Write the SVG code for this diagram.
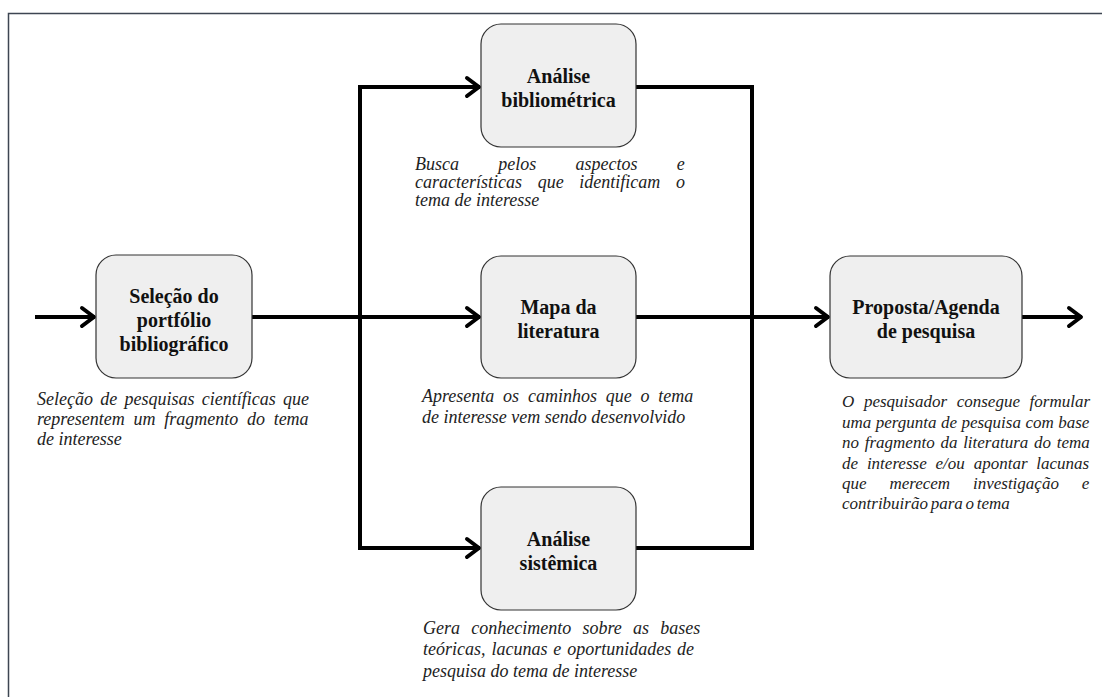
<svg xmlns="http://www.w3.org/2000/svg" width="1102" height="697" viewBox="0 0 1102 697">
<defs>
<style>
.frame{fill:none;stroke:#3d4652;stroke-width:1.5}
.box{fill:#efefef;stroke:#333;stroke-width:1.2}
.lbl{font-family:"Liberation Serif","Times New Roman",serif;font-weight:bold;font-size:20px;fill:#111;text-anchor:middle}
.desc{font-family:"Liberation Serif","Times New Roman",serif;font-style:italic;font-size:18px;fill:#222}
.desc.r{font-size:17px}
.conn{fill:none;stroke:#000;stroke-width:4;stroke-linejoin:miter}
</style>
<marker id="arr" markerUnits="userSpaceOnUse" viewBox="-18 -12 20 24" markerWidth="20" markerHeight="24" refX="0" refY="0" orient="auto">
<path d="M-13,-9 L-1,0 L-13,9" fill="none" stroke="#000" stroke-width="4" stroke-linecap="round" stroke-linejoin="round"/>
</marker>
</defs>
<rect width="1102" height="697" fill="#fff"/>
<path class="frame" d="M8.5,697 V13.5 H1102"/>

<g id="connectors">
<path class="conn" d="M35,317 H95" marker-end="url(#arr)"/>
<path class="conn" d="M252,317 H480" marker-end="url(#arr)"/>
<path class="conn" d="M360,548 V87 H480" marker-end="url(#arr)"/>
<path class="conn" d="M358,548 H480" marker-end="url(#arr)"/>
<path class="conn" d="M636,87 H752 V548 H636"/>
<path class="conn" d="M636,317 H829" marker-end="url(#arr)"/>
<path class="conn" d="M1022,317 H1082" marker-end="url(#arr)"/>
</g>

<g id="node-selecao">
<rect class="box" x="96" y="255" width="156" height="123" rx="20"/>
<text class="lbl" x="174" y="303">Seleção do</text>
<text class="lbl" x="174" y="327">portfólio</text>
<text class="lbl" x="174" y="351">bibliográfico</text>
<text class="desc" x="37" y="405" style="word-spacing:2.75px">Seleção de pesquisas científicas que</text>
<text class="desc" x="37" y="425" style="word-spacing:4.25px">representem um fragmento do tema</text>
<text class="desc" x="37" y="445">de interesse</text>
</g>

<g id="node-bibliometrica">
<rect class="box" x="481" y="24" width="155" height="123" rx="20"/>
<text class="lbl" x="558.5" y="83">Análise</text>
<text class="lbl" x="558.5" y="107">bibliométrica</text>
<text class="desc" x="415" y="170" style="word-spacing:34.8px">Busca pelos aspectos e</text>
<text class="desc" x="415" y="188" style="word-spacing:11.2px">características que identificam o</text>
<text class="desc" x="415" y="206">tema de interesse</text>
</g>

<g id="node-mapa">
<rect class="box" x="481" y="256" width="155" height="122" rx="20"/>
<text class="lbl" x="558.5" y="314">Mapa da</text>
<text class="lbl" x="558.5" y="338">literatura</text>
<text class="desc" x="422" y="402" style="word-spacing:4.3px">Apresenta os caminhos que o tema</text>
<text class="desc" x="422" y="423">de interesse vem sendo desenvolvido</text>
</g>

<g id="node-sistemica">
<rect class="box" x="481" y="487" width="155" height="123" rx="20"/>
<text class="lbl" x="558.5" y="546">Análise</text>
<text class="lbl" x="558.5" y="570">sistêmica</text>
<text class="desc" x="423" y="634" style="word-spacing:6.75px">Gera conhecimento sobre as bases</text>
<text class="desc" x="423" y="655" style="word-spacing:1.4px">teóricas, lacunas e oportunidades de</text>
<text class="desc" x="423" y="677">pesquisa do tema de interesse</text>
</g>

<g id="node-proposta">
<rect class="box" x="830" y="256" width="192" height="122" rx="20"/>
<text class="lbl" x="926" y="314">Proposta/Agenda</text>
<text class="lbl" x="926" y="338">de pesquisa</text>
<text class="desc r" x="842" y="407" style="word-spacing:5.4px">O pesquisador consegue formular</text>
<text class="desc r" x="842" y="428" style="word-spacing:0.2px">uma pergunta de pesquisa com base</text>
<text class="desc r" x="842" y="448" style="word-spacing:1.5px">no fragmento da literatura do tema</text>
<text class="desc r" x="842" y="469" style="word-spacing:4.6px">de interesse e/ou apontar lacunas</text>
<text class="desc r" x="842" y="489" style="word-spacing:18.6px">que merecem investigação e</text>
<text class="desc r" x="842" y="509" style="word-spacing:-1.5px">contribuirão para o tema</text>
</g>
</svg>
